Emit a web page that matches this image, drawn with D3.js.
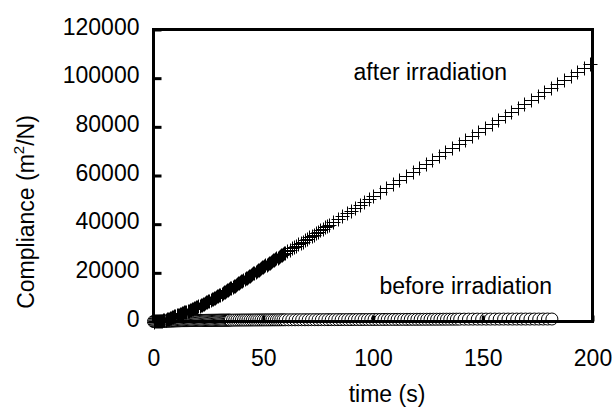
<!DOCTYPE html>
<html>
<head>
<meta charset="utf-8">
<script src="https://cdn.jsdelivr.net/npm/d3@7"></script>
<style>
  body { margin: 0; background: #fff; }
  text { font-family: "Liberation Sans", Arial, sans-serif; fill: #000; }
</style>
</head>
<body>
<script>
// Compliance vs time, before / after irradiation

const xTicks = [0, 50, 100, 150, 200];
const yTicks = [0, 20000, 40000, 60000, 80000, 100000, 120000];

// after irradiation (plus markers)
const afterTime = [
  0, 0.5, 1, 1.5, 2, 2.5, 3, 3.5, 4, 4.5, 5, 5.5, 6, 6.5, 7, 7.5, 8, 8.5, 9, 9.5,
  10, 10.5, 11, 11.5, 12, 12.5, 13, 13.5, 14, 14.5, 15, 15.5, 16, 16.5, 17, 17.5, 18, 18.5, 19, 19.5,
  20, 20.5, 21, 21.5, 22, 22.5, 23, 23.5, 24, 24.5, 25, 25.5, 26, 26.5, 27, 27.5, 28, 28.5, 29, 29.5,
  30, 30.5, 31, 31.5, 32, 32.5, 33, 33.5, 34, 34.5, 35, 35.5, 36, 36.5, 37, 37.5, 38, 38.5, 39, 39.5,
  40, 40.5, 41, 41.5, 42, 42.5, 43, 43.5, 44, 44.5, 45, 45.5, 46, 46.5, 47, 47.5, 48, 48.5, 49, 49.5,
  50, 50.5, 51, 51.5, 52, 52.5, 53, 53.5, 54, 54.5, 55, 55.5, 56, 56.5, 57, 57.5, 58, 58.5, 59, 59.5,
  60, 61, 62, 63, 64, 65, 66, 67, 68, 69, 70, 71, 72, 73, 74, 75, 76, 77, 78, 79, 80,
  82, 84, 86, 88, 90, 92, 94, 96, 98, 100,
  103, 106, 109, 112, 115, 118, 121, 124, 127, 130, 133, 136, 139, 142, 145, 148,
  151, 154, 157, 160, 163, 166, 169, 172, 175, 178, 181, 184, 187, 190, 193, 196, 199
];
const afterCompliance = [
  0, 5, 20, 50, 90, 145, 210, 285, 370, 470, 580, 700, 830, 975, 1130, 1295, 1470, 1660, 1860, 2075,
  2300, 2470, 2640, 2815, 2990, 3170, 3350, 3535, 3720, 3910, 4100, 4295, 4490, 4690, 4890, 5095, 5300, 5470, 5640, 5820,
  6000, 6230, 6460, 6690, 6920, 7155, 7390, 7625, 7860, 8100, 8340, 8580, 8820, 9065, 9310, 9555, 9800, 10050, 10300, 10550,
  10800, 11080, 11360, 11640, 11920, 12205, 12490, 12775, 13060, 13345, 13630, 13915, 14200, 14490, 14780, 15065, 15350, 15640, 15930, 16215,
  16500, 16800, 17100, 17400, 17700, 18000, 18300, 18600, 18900, 19200, 19500, 19800, 20100, 20400, 20700, 21000, 21300, 21600, 21900, 22200,
  22500, 22790, 23080, 23370, 23660, 23950, 24240, 24530, 24820, 25110, 25400, 25690, 25980, 26270, 26560, 26850, 27140, 27430, 27720, 28010,
  28300, 28870, 29440, 30010, 30580, 31150, 31720, 32290, 32860, 33430, 34000, 34580, 35160, 35740, 36320, 36900, 37480, 38060, 38640, 39220, 39800,
  40960, 42120, 43280, 44440, 45600, 46760, 47920, 49080, 50240, 51400,
  53080, 54760, 56440, 58120, 59800, 61480, 63160, 64840, 66500, 68100, 69750, 71400, 73050, 74700, 76350, 78000,
  79650, 81300, 82950, 84600, 86250, 87900, 89550, 91200, 92850, 94500, 96150, 97800, 99400, 101000, 102650, 104300, 105950
];

// before irradiation (open circles)
const beforeTime = [
  0, 0.5, 1, 1.5, 2, 2.5, 3, 3.5, 4, 4.5, 5, 5.5, 6, 6.5, 7, 7.5, 8, 8.5, 9, 9.5,
  10, 10.5, 11, 11.5, 12, 12.5, 13, 13.5, 14, 14.5, 15, 15.5, 16, 16.5, 17, 17.5, 18, 18.5, 19, 19.5,
  20, 20.5, 21, 21.5, 22, 22.5, 23, 23.5, 24, 24.5, 25, 25.5, 26, 26.5, 27, 27.5, 28, 28.5, 29, 29.5,
  30, 30.5, 31, 31.5, 32, 32.5, 33, 33.5, 34, 34.5, 35,
  36, 37, 38, 39, 40, 41, 42, 43, 44, 45, 46, 47, 48, 49, 50, 51, 52, 53, 54, 55, 56, 57, 58, 59, 60,
  61.5, 63, 64.5, 66, 67.5, 69, 70.5, 72, 73.5, 75, 76.5, 78, 79.5, 81, 82.5, 84, 85.5, 87, 88.5, 90,
  91.5, 93, 94.5, 96, 97.5, 99, 100.5, 102, 103.5, 105, 106.5, 108, 109.5, 111, 112.5, 114, 115.5, 117, 118.5, 120,
  121.5, 123, 124.5, 126, 127.5, 129, 130.5, 132, 133.5, 135, 136.5, 138, 139.5,
  141.5, 143.5, 145.5, 147.5, 149.5, 151.5, 153.5, 155.5, 157.5, 159.5, 161.5, 163.5, 165.5, 167.5, 169.5,
  171.5, 173.5, 175.5, 177.5, 179.5, 181.5
];
const beforeCompliance = [
  0, 15, 30, 45, 60, 75, 90, 105, 120, 135, 150, 165, 180, 190, 200, 215, 230, 240, 250, 265,
  280, 290, 300, 310, 320, 330, 340, 345, 350, 360, 370, 375, 380, 390, 400, 405, 410, 415, 420, 425,
  430, 435, 440, 445, 450, 455, 460, 465, 470, 475, 480, 485, 490, 495, 500, 505, 510, 515, 520, 525,
  530, 535, 540, 543, 545, 548, 550, 555, 560, 563, 565,
  570, 580, 585, 590, 600, 605, 610, 615, 620, 625, 630, 635, 640, 645, 650, 655, 660, 665, 670, 675, 680, 685, 690, 695, 700,
  705, 710, 715, 720, 725, 730, 735, 740, 745, 750, 755, 760, 765, 770, 775, 780, 785, 790, 795, 800,
  805, 810, 815, 820, 825, 830, 835, 840, 845, 850, 855, 860, 865, 870, 875, 880, 885, 890, 895, 900,
  905, 910, 915, 920, 925, 930, 935, 940, 945, 950, 955, 960, 965,
  970, 975, 978, 981, 984, 987, 990, 992, 994, 996, 998, 1000, 1002, 1004, 1006,
  1008, 1010, 1012, 1014, 1016, 1018
];

const after = afterTime.map((t, i) => ({t: t, c: afterCompliance[i]}));
const before = beforeTime.map((t, i) => ({t: t, c: beforeCompliance[i]}));

const width = 613;
const height = 409;
const margin = ({top: 29.5, right: 20.5, bottom: 87.5, left: 153.5});

const xScale = d3.scaleLinear()
  .domain([0, 200])
  .range([margin.left, width - margin.right]);

const yScale = d3.scaleLinear()
  .domain([0, 120000])
  .range([height - margin.bottom, margin.top]);

const svg = d3.select('body')
  .append('svg')
  .attr('width', width)
  .attr('height', height);

// before irradiation circles
svg.append('g')
  .selectAll('circle')
  .data(before)
  .join('circle')
  .attr('cx', d => xScale(d.t))
  .attr('cy', d => yScale(d.c))
  .attr('r', 6)
  .attr('fill', '#fff')
  .attr('stroke', '#000')
  .attr('stroke-width', 1);

// after irradiation plus signs
const s = 7;
svg.append('g')
  .selectAll('path')
  .data(after)
  .join('path')
  .attr('d', d => {
    const x = Math.round(xScale(d.t)) + 0.5, y = Math.round(yScale(d.c)) + 0.5;
    return `M${x - s},${y}H${x + s}M${x},${y - s}V${y + s}`;
  })
  .attr('stroke', '#000')
  .attr('stroke-width', 1)
  .attr('fill', 'none');

// frame
svg.append('rect')
  .attr('x', margin.left)
  .attr('y', margin.top)
  .attr('width', width - margin.right - margin.left)
  .attr('height', height - margin.bottom - margin.top)
  .attr('fill', 'none')
  .attr('stroke', '#000')
  .attr('stroke-width', 3);

// Y axis, ticks pointing inward
const yAxis = d3.axisRight(yScale).tickValues(yTicks).tickSize(8).tickFormat(d => d);
const gy = svg.append('g')
  .attr('transform', `translate(${margin.left},0)`)
  .call(yAxis);
gy.select('.domain').remove();
gy.selectAll('line').attr('stroke-width', 3);
gy.selectAll('text')
  .attr('x', -14)
  .attr('dy', '0.2em')
  .attr('text-anchor', 'end')
  .attr('font-size', 23)
  .attr('font-family', '"Liberation Sans", Arial, sans-serif');

// X axis, ticks pointing inward
const xAxis = d3.axisTop(xScale).tickValues(xTicks).tickSize(6);
const gx = svg.append('g')
  .attr('transform', `translate(0,${height - margin.bottom})`)
  .call(xAxis);
gx.select('.domain').remove();
gx.selectAll('line').attr('stroke-width', 3);
gx.selectAll('text')
  .attr('y', 44)
  .attr('dy', 0)
  .attr('font-size', 23)
  .attr('font-family', '"Liberation Sans", Arial, sans-serif');

// axis titles
svg.append('text')
  .attr('x', 387)
  .attr('y', 402)
  .attr('text-anchor', 'middle')
  .attr('font-size', 23)
  .text('time (s)');

const yl = svg.append('text')
  .attr('transform', 'translate(34,212) rotate(-90)')
  .attr('text-anchor', 'middle')
  .attr('font-size', 23);
yl.append('tspan').text('Compliance (m');
yl.append('tspan').attr('dy', -10).attr('font-size', 15).text('2');
yl.append('tspan').attr('dy', 10).text('/N)');

// series labels
svg.append('text')
  .attr('x', 507)
  .attr('y', 80)
  .attr('text-anchor', 'end')
  .attr('font-size', 23)
  .text('after irradiation');

svg.append('text')
  .attr('x', 552)
  .attr('y', 294)
  .attr('text-anchor', 'end')
  .attr('font-size', 23)
  .text('before irradiation');
</script>
</body>
</html>
